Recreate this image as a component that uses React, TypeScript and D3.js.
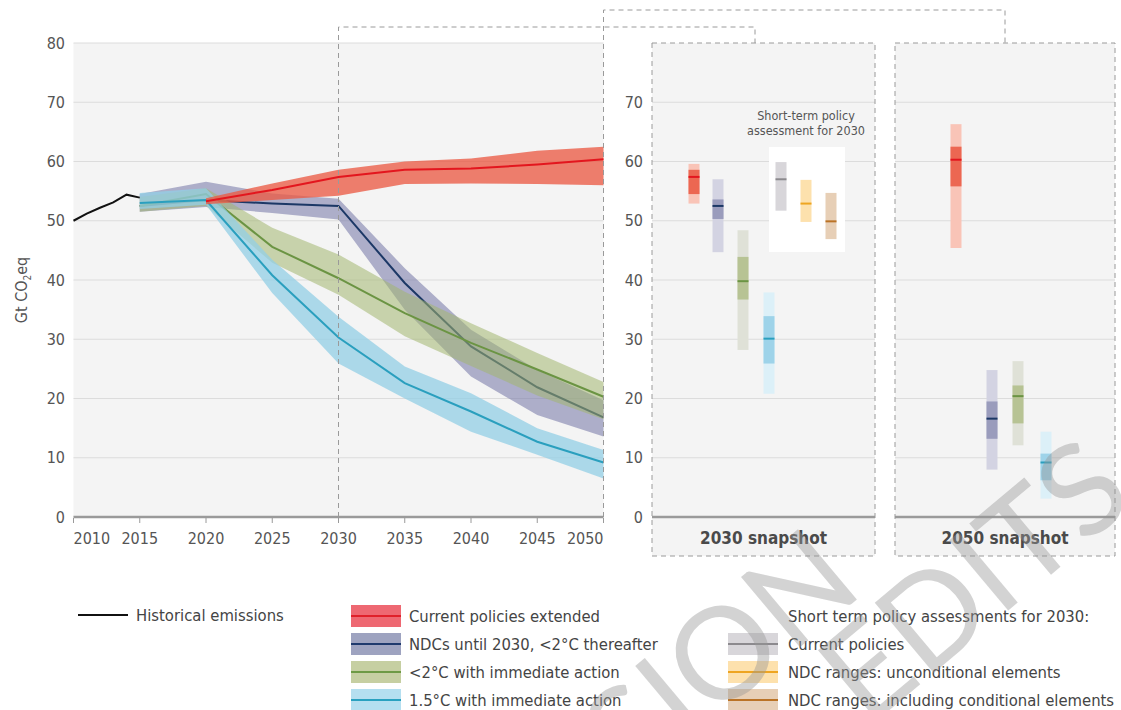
import * as d3 from "d3";

// Global GHG emission pathways plus 2030 / 2050 snapshots.

const FONT =
  "'Liberation Sans Narrow', 'DejaVu Sans Condensed', 'Roboto Condensed', Roboto, sans-serif";

const histYears = [2010, 2011, 2012, 2013, 2014, 2015];
const histValues = [50.0, 51.2, 52.2, 53.1, 54.4, 53.9];

const years = [2015, 2020, 2025, 2030, 2035, 2040, 2045, 2050];

const ndcMid = [52.5, 53.5, 52.9, 52.5, 39.5, 28.8, 21.9, 16.8];
const ndcLow = [51.5, 52.3, 51.3, 50.2, 35.0, 23.7, 17.2, 13.6];
const ndcHigh = [54.5, 56.6, 54.6, 53.7, 42.0, 31.6, 24.8, 19.7];

const twoMid = [52.5, 54.5, 45.6, 40.3, 34.4, 29.4, 24.9, 20.3];
const twoLow = [51.5, 52.5, 42.9, 37.5, 30.5, 25.5, 20.5, 16.5];
const twoHigh = [54.0, 55.5, 48.8, 44.3, 38.0, 32.7, 27.7, 22.8];

const oneFiveMid = [53.0, 53.5, 40.8, 30.3, 22.6, 17.8, 12.7, 9.2];
const oneFiveLow = [52.0, 52.7, 37.8, 25.9, 20.0, 14.4, 10.5, 6.5];
const oneFiveHigh = [54.7, 55.5, 43.4, 33.8, 25.4, 20.9, 15.0, 11.3];

const curYears = [2020, 2025, 2030, 2035, 2040, 2045, 2050];
const curMid = [53.3, 55.2, 57.4, 58.6, 58.8, 59.5, 60.4];
const curLow = [52.8, 53.5, 54.2, 56.2, 56.3, 56.2, 56.0];
const curHigh = [53.8, 56.3, 58.6, 60.0, 60.5, 61.8, 62.5];

const yTicks = [0, 10, 20, 30, 40, 50, 60, 70, 80];
const xTicks = [2010, 2015, 2020, 2025, 2030, 2035, 2040, 2045, 2050];
const snapTicks = [0, 10, 20, 30, 40, 50, 60, 70];

// snapshot bars: order current, ndc, 2C, 1.5C
const snapKeys = ["cur", "ndc", "two", "onefive"];
const s2030Low = [52.9, 44.7, 28.2, 20.8];
const s2030Q1 = [54.5, 50.3, 36.7, 25.9];
const s2030Med = [57.4, 52.5, 39.8, 30.1];
const s2030Q3 = [58.6, 53.6, 43.9, 33.9];
const s2030High = [59.6, 57.0, 48.4, 37.9];

const s2050Low = [45.4, 8.0, 12.1, 3.1];
const s2050Q1 = [55.8, 13.2, 15.8, 6.2];
const s2050Med = [60.3, 16.6, 20.4, 9.2];
const s2050Q3 = [62.5, 19.5, 22.2, 10.7];
const s2050High = [66.3, 24.8, 26.3, 14.4];

// short-term policy assessment for 2030
const policyKeys = ["current", "uncond", "cond"];
const policyLow = [51.7, 49.8, 46.9];
const policyMed = [57.0, 52.9, 49.9];
const policyHigh = [59.9, 56.9, 54.7];

const legendLeft = [
  "Current policies extended",
  "NDCs until 2030, <2°C thereafter",
  "<2°C with immediate action",
  "1.5°C with immediate action",
];
const legendRight = [
  "Current policies",
  "NDC ranges: unconditional elements",
  "NDC ranges: including conditional elements",
];

const col: Record<string, { band: string; line: string; light: string; dark: string }> = {
  cur: { band: "#ea5b45", line: "#e3161e", light: "#f9c4b7", dark: "#ec6752" },
  ndc: { band: "#7d7fab", line: "#1c3866", light: "#d3d3e2", dark: "#9a9cbc" },
  two: { band: "#a3b66f", line: "#6b9443", light: "#dfe1d7", dark: "#b7c394" },
  onefive: { band: "#93cfe6", line: "#2a9fbe", light: "#dcf0f8", dark: "#9ed3e9" },
};
const policyCol: Record<string, { fill: string; line: string }> = {
  current: { fill: "#d8d6da", line: "#8c8a8e" },
  uncond: { fill: "#fde1ad", line: "#eea521" },
  cond: { fill: "#e7cfb6", line: "#bb7326" },
};
const legendSwatch = [
  { fill: "#ee6872", line: "#e0202a" },
  { fill: "#9ea3c0", line: "#1f3a6e" },
  { fill: "#c6cfa2", line: "#6e9a45" },
  { fill: "#b5dff0", line: "#2aa1c0" },
];

const GRID = "#dcdcdc";
const TXT = "#555";
const DASH = "#9a9a9a";

export default function App() {
  const width = 1121;
  const height = 710;
  const x = d3.scaleLinear([2010, 2050], [73.5, 603.5]);
  const y = d3.scaleLinear([0, 80], [517, 43]);

  const band = (xs: number[], lo: number[], hi: number[]) =>
    d3
      .area<number>()
      .x((_, i) => x(xs[i]))
      .y0((_, i) => y(lo[i]))
      .y1((_, i) => y(hi[i]))(lo) || "";
  const line = (xs: number[], v: number[]) =>
    d3
      .line<number>()
      .x((_, i) => x(xs[i]))
      .y((d) => y(d))(v) || "";

  const series = [
    { key: "ndc", xs: years, lo: ndcLow, hi: ndcHigh, mid: ndcMid, op: 0.6 },
    { key: "two", xs: years, lo: twoLow, hi: twoHigh, mid: twoMid, op: 0.55 },
    { key: "onefive", xs: years, lo: oneFiveLow, hi: oneFiveHigh, mid: oneFiveMid, op: 0.75 },
    { key: "cur", xs: curYears, lo: curLow, hi: curHigh, mid: curMid, op: 0.78 },
  ];

  const p30 = { x0: 652, x1: 875 };
  const p50 = { x0: 895, x1: 1115 };
  const x30 = d3.scaleOrdinal<string, number>(snapKeys, [694, 718, 743, 769]);
  const x50 = d3.scaleOrdinal<string, number>(snapKeys, [956, 992, 1018, 1046]);
  const xPol = d3.scaleOrdinal<string, number>(policyKeys, [781, 806, 831]);
  const bw = 11;

  const snapBars = (
    xs: d3.ScaleOrdinal<string, number>,
    lo: number[],
    q1: number[],
    med: number[],
    q3: number[],
    hi: number[]
  ) =>
    snapKeys.map((k, i) => {
      const cx = xs(k);
      return (
        <g key={k}>
          <rect x={cx - bw / 2} width={bw} y={y(hi[i])} height={y(lo[i]) - y(hi[i])} fill={col[k].light} />
          <rect x={cx - bw / 2} width={bw} y={y(q3[i])} height={y(q1[i]) - y(q3[i])} fill={col[k].dark} />
          <line x1={cx - bw / 2} x2={cx + bw / 2} y1={y(med[i])} y2={y(med[i])} stroke={col[k].line} strokeWidth={2} />
        </g>
      );
    });

  const panel = (p: { x0: number; x1: number }, label: string) => (
    <g>
      <rect x={p.x0} y={43} width={p.x1 - p.x0} height={513} fill="#f4f4f4" />
      {snapTicks.map((t) => (
        <line key={t} x1={p.x0} x2={p.x1} y1={y(t)} y2={y(t)} stroke={t === 0 ? "#9a9a9a" : GRID} strokeWidth={t === 0 ? 2.5 : 1} />
      ))}
      <text x={(p.x0 + p.x1) / 2} y={544} textAnchor="middle" fontSize={17} fontWeight="bold" fill="#4a4a4a">
        {label}
      </text>
    </g>
  );

  const xAnchor = (i: number) => (i === 0 ? "start" : i === xTicks.length - 1 ? "end" : "middle");

  return (
    <svg
      width={width}
      height={height}
      style={{ position: "absolute", left: 0, top: 0, background: "#fff" }}
      fontFamily={FONT}
    >
      {/* main panel */}
      <rect x={73.5} y={43} width={530} height={474} fill="#f4f4f4" />
      {yTicks.map((t) => (
        <g key={t}>
          <line x1={73.5} x2={603.5} y1={y(t)} y2={y(t)} stroke={t === 0 ? "#9a9a9a" : GRID} strokeWidth={t === 0 ? 2.5 : 1} />
          <text x={65} y={y(t) + 5.5} textAnchor="end" fontSize={16} fill={TXT}>
            {t}
          </text>
        </g>
      ))}
      {xTicks.map((t, i) => (
        <g key={t}>
          <line x1={x(t)} x2={x(t)} y1={518} y2={523} stroke="#9a9a9a" />
          <text x={x(t)} y={544} textAnchor={xAnchor(i)} fontSize={16} fill={TXT}>
            {t}
          </text>
        </g>
      ))}
      <text transform="translate(27,290) rotate(-90)" textAnchor="middle" fontSize={16} fill={TXT}>
        Gt CO<tspan fontSize={10} dy={4}>2</tspan>
        <tspan dy={-4}>eq</tspan>
      </text>

      {series.map((s) => (
        <g key={s.key}>
          <path d={band(s.xs, s.lo, s.hi)} fill={col[s.key].band} fillOpacity={s.op} />
          <path d={line(s.xs, s.mid)} fill="none" stroke={col[s.key].line} strokeWidth={2} />
        </g>
      ))}
      <path d={line(histYears, histValues)} fill="none" stroke="#111" strokeWidth={2} />

      {/* snapshots */}
      {panel(p30, "2030 snapshot")}
      {panel(p50, "2050 snapshot")}
      {snapTicks.map((t) => (
        <text key={t} x={643} y={y(t) + 5.5} textAnchor="end" fontSize={16} fill={TXT}>
          {t}
        </text>
      ))}
      {snapBars(x30, s2030Low, s2030Q1, s2030Med, s2030Q3, s2030High)}
      {snapBars(x50, s2050Low, s2050Q1, s2050Med, s2050Q3, s2050High)}

      <rect x={769} y={147} width={76} height={105} fill="#fff" />
      <text x={806} y={120} textAnchor="middle" fontSize={12.5} fill={TXT}>
        Short-term policy
      </text>
      <text x={806} y={135} textAnchor="middle" fontSize={12.5} fill={TXT}>
        assessment for 2030
      </text>
      {policyKeys.map((k, i) => (
        <g key={k}>
          <rect
            x={xPol(k) - bw / 2}
            width={bw}
            y={y(policyHigh[i])}
            height={y(policyLow[i]) - y(policyHigh[i])}
            fill={policyCol[k].fill}
          />
          <line
            x1={xPol(k) - bw / 2}
            x2={xPol(k) + bw / 2}
            y1={y(policyMed[i])}
            y2={y(policyMed[i])}
            stroke={policyCol[k].line}
            strokeWidth={2}
          />
        </g>
      ))}

      {/* dashed connectors and frames */}
      <g fill="none" stroke={DASH} strokeWidth={1} strokeDasharray="5,4">
        <path d={`M${x(2030)},517 V27 H755 V43`} />
        <path d={`M${x(2050)},517 V10 H1005 V43`} />
        <rect x={p30.x0} y={43} width={p30.x1 - p30.x0} height={513} />
        <rect x={p50.x0} y={43} width={p50.x1 - p50.x0} height={513} />
      </g>

      {/* legend */}
      <line x1={78} x2={128} y1={615} y2={615} stroke="#111" strokeWidth={2} />
      <text x={136} y={621} fontSize={16.5} fill="#444">
        Historical emissions
      </text>
      {legendLeft.map((t, i) => (
        <g key={t}>
          <rect x={351} y={605 + i * 28} width={50} height={22} fill={legendSwatch[i].fill} />
          <line x1={351} x2={401} y1={616 + i * 28} y2={616 + i * 28} stroke={legendSwatch[i].line} strokeWidth={2} />
          <text x={409} y={622 + i * 28} fontSize={16.5} fill="#444">
            {t}
          </text>
        </g>
      ))}
      <text x={788} y={622} fontSize={16.5} fill="#444">
        Short term policy assessments for 2030:
      </text>
      {legendRight.map((t, i) => {
        const k = policyKeys[i];
        return (
          <g key={t}>
            <rect x={728} y={633 + i * 28} width={50} height={22} fill={policyCol[k].fill} />
            <line x1={728} x2={778} y1={644 + i * 28} y2={644 + i * 28} stroke={policyCol[k].line} strokeWidth={2} />
            <text x={788} y={650 + i * 28} fontSize={16.5} fill="#444">
              {t}
            </text>
          </g>
        );
      })}

      {/* watermark */}
      <g fill="rgba(150,150,150,0.42)" fontFamily="Lato, 'Open Sans', sans-serif" fontWeight={400} fontSize={128}>
        <text transform="translate(866,592) rotate(-40)" textAnchor="end">
          REVISION
        </text>
        <text transform="translate(868,728) rotate(-40)">EDITS</text>
      </g>
    </svg>
  );
}
